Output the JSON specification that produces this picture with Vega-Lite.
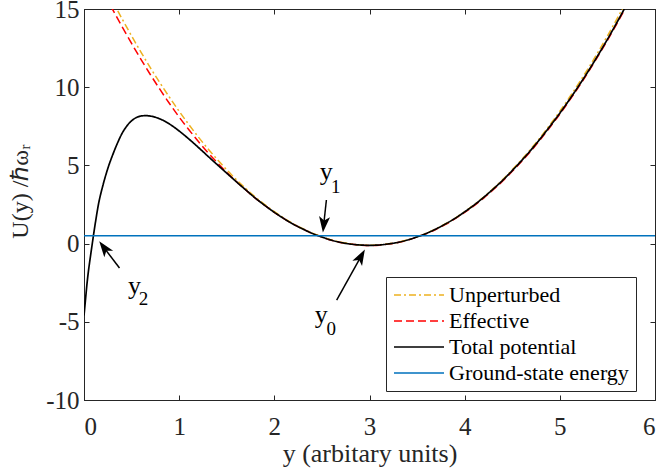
{
  "$schema": "https://vega.github.io/schema/vega-lite/v6.json",
  "width": 571,
  "height": 391,
  "autosize": {"type": "none"},
  "padding": {"left": 84, "top": 9, "right": 3, "bottom": 74},
  "background": "white",
  "config": {
    "view": {"stroke": "#262626", "strokeWidth": 1},
    "font": "Liberation Serif",
    "axis": {
      "grid": false,
      "domainColor": "#262626",
      "tickColor": "#262626",
      "tickSize": -5,
      "labelFont": "Liberation Serif",
      "labelFontSize": 24,
      "labelColor": "#262626",
      "titleFont": "Liberation Serif",
      "titleFontWeight": "normal",
      "titleColor": "#262626"
    },
    "legend": {
      "labelFont": "Liberation Serif",
      "labelFontSize": 22,
      "labelColor": "black",
      "labelLimit": 400,
      "symbolType": "stroke",
      "symbolSize": 2500,
      "symbolStrokeWidth": 1.5,
      "clipHeight": 22,
      "fillColor": "white",
      "strokeColor": "#262626",
      "padding": 7,
      "rowPadding": 4,
      "labelOffset": 4,
      "cornerRadius": 0
    }
  },
  "datasets": {
    "curves": [
      {"pos": 0.0, "U": 19.16, "s": "Unperturbed"}, {"pos": 0.1, "U": 17.90, "s": "Unperturbed"}, {"pos": 0.2, "U": 16.68, "s": "Unperturbed"}, {"pos": 0.3, "U": 15.50, "s": "Unperturbed"}, {"pos": 0.4, "U": 14.37, "s": "Unperturbed"}, {"pos": 0.5, "U": 13.28, "s": "Unperturbed"}, {"pos": 0.6, "U": 12.23, "s": "Unperturbed"}, {"pos": 0.7, "U": 11.22, "s": "Unperturbed"}, {"pos": 0.8, "U": 10.26, "s": "Unperturbed"}, {"pos": 0.9, "U": 9.34, "s": "Unperturbed"},
      {"pos": 1.0, "U": 8.46, "s": "Unperturbed"}, {"pos": 1.1, "U": 7.63, "s": "Unperturbed"}, {"pos": 1.2, "U": 6.83, "s": "Unperturbed"}, {"pos": 1.3, "U": 6.08, "s": "Unperturbed"}, {"pos": 1.4, "U": 5.38, "s": "Unperturbed"}, {"pos": 1.5, "U": 4.72, "s": "Unperturbed"}, {"pos": 1.6, "U": 4.09, "s": "Unperturbed"}, {"pos": 1.7, "U": 3.52, "s": "Unperturbed"}, {"pos": 1.8, "U": 2.98, "s": "Unperturbed"}, {"pos": 1.9, "U": 2.49, "s": "Unperturbed"},
      {"pos": 2.0, "U": 2.04, "s": "Unperturbed"}, {"pos": 2.1, "U": 1.63, "s": "Unperturbed"}, {"pos": 2.2, "U": 1.27, "s": "Unperturbed"}, {"pos": 2.3, "U": 0.95, "s": "Unperturbed"}, {"pos": 2.4, "U": 0.67, "s": "Unperturbed"}, {"pos": 2.5, "U": 0.44, "s": "Unperturbed"}, {"pos": 2.6, "U": 0.24, "s": "Unperturbed"}, {"pos": 2.7, "U": 0.09, "s": "Unperturbed"}, {"pos": 2.8, "U": -0.01, "s": "Unperturbed"}, {"pos": 2.9, "U": -0.08, "s": "Unperturbed"},
      {"pos": 3.0, "U": -0.10, "s": "Unperturbed"}, {"pos": 3.1, "U": -0.08, "s": "Unperturbed"}, {"pos": 3.2, "U": -0.01, "s": "Unperturbed"}, {"pos": 3.3, "U": 0.09, "s": "Unperturbed"}, {"pos": 3.4, "U": 0.24, "s": "Unperturbed"}, {"pos": 3.5, "U": 0.44, "s": "Unperturbed"}, {"pos": 3.6, "U": 0.67, "s": "Unperturbed"}, {"pos": 3.7, "U": 0.95, "s": "Unperturbed"}, {"pos": 3.8, "U": 1.27, "s": "Unperturbed"}, {"pos": 3.9, "U": 1.63, "s": "Unperturbed"},
      {"pos": 4.0, "U": 2.04, "s": "Unperturbed"}, {"pos": 4.1, "U": 2.49, "s": "Unperturbed"}, {"pos": 4.2, "U": 2.98, "s": "Unperturbed"}, {"pos": 4.3, "U": 3.52, "s": "Unperturbed"}, {"pos": 4.4, "U": 4.09, "s": "Unperturbed"}, {"pos": 4.5, "U": 4.72, "s": "Unperturbed"}, {"pos": 4.6, "U": 5.38, "s": "Unperturbed"}, {"pos": 4.7, "U": 6.08, "s": "Unperturbed"}, {"pos": 4.8, "U": 6.83, "s": "Unperturbed"}, {"pos": 4.9, "U": 7.63, "s": "Unperturbed"},
      {"pos": 5.0, "U": 8.46, "s": "Unperturbed"}, {"pos": 5.1, "U": 9.34, "s": "Unperturbed"}, {"pos": 5.2, "U": 10.26, "s": "Unperturbed"}, {"pos": 5.3, "U": 11.22, "s": "Unperturbed"}, {"pos": 5.4, "U": 12.23, "s": "Unperturbed"}, {"pos": 5.5, "U": 13.28, "s": "Unperturbed"}, {"pos": 5.6, "U": 14.37, "s": "Unperturbed"}, {"pos": 5.7, "U": 15.50, "s": "Unperturbed"}, {"pos": 5.8, "U": 16.68, "s": "Unperturbed"},

      {"pos": 0.0, "U": 18.64, "s": "Effective"}, {"pos": 0.1, "U": 17.38, "s": "Effective"}, {"pos": 0.2, "U": 16.16, "s": "Effective"}, {"pos": 0.3, "U": 14.98, "s": "Effective"}, {"pos": 0.4, "U": 13.87, "s": "Effective"}, {"pos": 0.5, "U": 12.80, "s": "Effective"}, {"pos": 0.6, "U": 11.77, "s": "Effective"}, {"pos": 0.7, "U": 10.78, "s": "Effective"}, {"pos": 0.8, "U": 9.84, "s": "Effective"}, {"pos": 0.9, "U": 8.94, "s": "Effective"},
      {"pos": 1.0, "U": 8.09, "s": "Effective"}, {"pos": 1.1, "U": 7.30, "s": "Effective"}, {"pos": 1.2, "U": 6.54, "s": "Effective"}, {"pos": 1.3, "U": 5.83, "s": "Effective"}, {"pos": 1.4, "U": 5.18, "s": "Effective"}, {"pos": 1.5, "U": 4.56, "s": "Effective"}, {"pos": 1.6, "U": 3.97, "s": "Effective"}, {"pos": 1.7, "U": 3.43, "s": "Effective"}, {"pos": 1.8, "U": 2.91, "s": "Effective"}, {"pos": 1.9, "U": 2.44, "s": "Effective"},
      {"pos": 2.0, "U": 2.00, "s": "Effective"}, {"pos": 2.1, "U": 1.60, "s": "Effective"}, {"pos": 2.2, "U": 1.24, "s": "Effective"}, {"pos": 2.3, "U": 0.93, "s": "Effective"}, {"pos": 2.4, "U": 0.65, "s": "Effective"}, {"pos": 2.5, "U": 0.42, "s": "Effective"}, {"pos": 2.6, "U": 0.22, "s": "Effective"}, {"pos": 2.7, "U": 0.07, "s": "Effective"}, {"pos": 2.8, "U": -0.03, "s": "Effective"}, {"pos": 2.9, "U": -0.10, "s": "Effective"},
      {"pos": 3.0, "U": -0.12, "s": "Effective"}, {"pos": 3.1, "U": -0.10, "s": "Effective"}, {"pos": 3.2, "U": -0.03, "s": "Effective"}, {"pos": 3.3, "U": 0.07, "s": "Effective"}, {"pos": 3.4, "U": 0.22, "s": "Effective"}, {"pos": 3.5, "U": 0.42, "s": "Effective"}, {"pos": 3.6, "U": 0.64, "s": "Effective"}, {"pos": 3.7, "U": 0.92, "s": "Effective"}, {"pos": 3.8, "U": 1.23, "s": "Effective"}, {"pos": 3.9, "U": 1.59, "s": "Effective"},
      {"pos": 4.0, "U": 1.99, "s": "Effective"}, {"pos": 4.1, "U": 2.43, "s": "Effective"}, {"pos": 4.2, "U": 2.91, "s": "Effective"}, {"pos": 4.3, "U": 3.44, "s": "Effective"}, {"pos": 4.4, "U": 4.00, "s": "Effective"}, {"pos": 4.5, "U": 4.62, "s": "Effective"}, {"pos": 4.6, "U": 5.27, "s": "Effective"}, {"pos": 4.7, "U": 5.95, "s": "Effective"}, {"pos": 4.8, "U": 6.69, "s": "Effective"}, {"pos": 4.9, "U": 7.47, "s": "Effective"},
      {"pos": 5.0, "U": 8.28, "s": "Effective"}, {"pos": 5.1, "U": 9.14, "s": "Effective"}, {"pos": 5.2, "U": 10.04, "s": "Effective"}, {"pos": 5.3, "U": 10.98, "s": "Effective"}, {"pos": 5.4, "U": 11.97, "s": "Effective"}, {"pos": 5.5, "U": 13.00, "s": "Effective"}, {"pos": 5.6, "U": 14.07, "s": "Effective"}, {"pos": 5.7, "U": 15.18, "s": "Effective"}, {"pos": 5.8, "U": 16.33, "s": "Effective"},

      {"pos": 0.0, "U": -4.6, "s": "Total potential"}, {"pos": 0.01, "U": -3.95, "s": "Total potential"}, {"pos": 0.02, "U": -3.3, "s": "Total potential"}, {"pos": 0.03, "U": -2.65, "s": "Total potential"}, {"pos": 0.04, "U": -2.1, "s": "Total potential"}, {"pos": 0.05, "U": -1.6, "s": "Total potential"}, {"pos": 0.06, "U": -1.15, "s": "Total potential"}, {"pos": 0.08, "U": -0.3, "s": "Total potential"}, {"pos": 0.1, "U": 0.55, "s": "Total potential"}, {"pos": 0.12, "U": 1.35, "s": "Total potential"},
      {"pos": 0.15, "U": 2.45, "s": "Total potential"}, {"pos": 0.2, "U": 3.75, "s": "Total potential"}, {"pos": 0.25, "U": 4.8, "s": "Total potential"}, {"pos": 0.3, "U": 5.65, "s": "Total potential"}, {"pos": 0.35, "U": 6.4, "s": "Total potential"}, {"pos": 0.4, "U": 7.05, "s": "Total potential"}, {"pos": 0.45, "U": 7.52, "s": "Total potential"}, {"pos": 0.5, "U": 7.85, "s": "Total potential"}, {"pos": 0.55, "U": 8.06, "s": "Total potential"}, {"pos": 0.6, "U": 8.16, "s": "Total potential"},
      {"pos": 0.65, "U": 8.18, "s": "Total potential"}, {"pos": 0.7, "U": 8.15, "s": "Total potential"}, {"pos": 0.75, "U": 8.08, "s": "Total potential"}, {"pos": 0.8, "U": 7.97, "s": "Total potential"}, {"pos": 0.85, "U": 7.82, "s": "Total potential"}, {"pos": 0.9, "U": 7.64, "s": "Total potential"}, {"pos": 0.95, "U": 7.43, "s": "Total potential"}, {"pos": 1.0, "U": 7.20, "s": "Total potential"}, {"pos": 1.1, "U": 6.70, "s": "Total potential"}, {"pos": 1.2, "U": 6.16, "s": "Total potential"},
      {"pos": 1.3, "U": 5.60, "s": "Total potential"}, {"pos": 1.4, "U": 5.05, "s": "Total potential"}, {"pos": 1.5, "U": 4.50, "s": "Total potential"}, {"pos": 1.6, "U": 3.96, "s": "Total potential"}, {"pos": 1.7, "U": 3.43, "s": "Total potential"}, {"pos": 1.8, "U": 2.91, "s": "Total potential"}, {"pos": 1.9, "U": 2.44, "s": "Total potential"}, {"pos": 2.0, "U": 2.0, "s": "Total potential"}, {"pos": 2.1, "U": 1.60, "s": "Total potential"}, {"pos": 2.2, "U": 1.24, "s": "Total potential"},
      {"pos": 2.3, "U": 0.93, "s": "Total potential"}, {"pos": 2.4, "U": 0.65, "s": "Total potential"}, {"pos": 2.5, "U": 0.42, "s": "Total potential"}, {"pos": 2.6, "U": 0.22, "s": "Total potential"}, {"pos": 2.7, "U": 0.07, "s": "Total potential"}, {"pos": 2.8, "U": -0.03, "s": "Total potential"}, {"pos": 2.9, "U": -0.09, "s": "Total potential"}, {"pos": 3.0, "U": -0.11, "s": "Total potential"}, {"pos": 3.1, "U": -0.09, "s": "Total potential"}, {"pos": 3.2, "U": -0.02, "s": "Total potential"},
      {"pos": 3.3, "U": 0.08, "s": "Total potential"}, {"pos": 3.4, "U": 0.23, "s": "Total potential"}, {"pos": 3.5, "U": 0.43, "s": "Total potential"}, {"pos": 3.6, "U": 0.66, "s": "Total potential"}, {"pos": 3.7, "U": 0.94, "s": "Total potential"}, {"pos": 3.8, "U": 1.26, "s": "Total potential"}, {"pos": 3.9, "U": 1.62, "s": "Total potential"}, {"pos": 4.0, "U": 2.03, "s": "Total potential"}, {"pos": 4.1, "U": 2.47, "s": "Total potential"}, {"pos": 4.2, "U": 2.96, "s": "Total potential"},
      {"pos": 4.3, "U": 3.49, "s": "Total potential"}, {"pos": 4.4, "U": 4.05, "s": "Total potential"}, {"pos": 4.5, "U": 4.67, "s": "Total potential"}, {"pos": 4.6, "U": 5.32, "s": "Total potential"}, {"pos": 4.7, "U": 6.01, "s": "Total potential"}, {"pos": 4.8, "U": 6.75, "s": "Total potential"}, {"pos": 4.9, "U": 7.53, "s": "Total potential"}, {"pos": 5.0, "U": 8.34, "s": "Total potential"}, {"pos": 5.1, "U": 9.2, "s": "Total potential"}, {"pos": 5.2, "U": 10.1, "s": "Total potential"},
      {"pos": 5.3, "U": 11.04, "s": "Total potential"}, {"pos": 5.4, "U": 12.03, "s": "Total potential"}, {"pos": 5.5, "U": 13.06, "s": "Total potential"}, {"pos": 5.6, "U": 14.14, "s": "Total potential"}, {"pos": 5.7, "U": 15.26, "s": "Total potential"}, {"pos": 5.8, "U": 16.42, "s": "Total potential"},

      {"pos": 0.0, "U": 0.5, "s": "Ground-state energy"}, {"pos": 6.0, "U": 0.5, "s": "Ground-state energy"}
    ],
    "arrows": [
      {"name": "y1", "x": 2.547, "y": 2.79, "x2": 2.519, "y2": 1.22},
      {"name": "y0", "x": 2.655, "y": -3.61, "x2": 2.911, "y2": -0.82},
      {"name": "y2", "x": 0.373, "y": -1.56, "x2": 0.210, "y2": -0.26}
    ],
    "labels": [
      {"t": "y", "k": "main", "x": 2.545, "y": 4.09},
      {"t": "1", "k": "sub", "x": 2.645, "y": 3.22},
      {"t": "y", "k": "main", "x": 2.492, "y": -5.10},
      {"t": "0", "k": "sub", "x": 2.597, "y": -5.85},
      {"t": "y", "k": "main", "x": 0.531, "y": -3.2},
      {"t": "2", "k": "sub", "x": 0.626, "y": -3.93}
    ]
  },
  "layer": [
    {
      "data": {"name": "curves"},
      "encoding": {
        "x": {"field": "pos", "type": "quantitative", "scale": {"domain": [0, 6], "nice": false, "zero": false},
              "axis": {"orient": "bottom", "values": [0, 1, 2, 3, 4, 5, 6], "labelFont": "Liberation Serif", "labelFontSize": 25, "labelPadding": 19, "title": "y (arbitary units)", "titleFont": "Liberation Serif", "titleFontSize": 26, "titleX": 285.5, "titleY": 40}},
        "y": {"field": "U", "type": "quantitative", "scale": {"domain": [-10, 15], "nice": false, "zero": false},
              "axis": {"orient": "left", "values": [-10, -5, 0, 5, 10, 15], "labelFont": "Liberation Serif", "labelFontSize": 25, "labelPadding": 10, "labelExpr": "replace(datum.label, '\u2212', '-')", "title": "U(y) /ℏωᵣ", "titleFont": "Liberation Serif", "titleFontSize": 24, "titleX": -52, "titleY": 182}},
        "color": {"field": "s", "type": "nominal",
                  "scale": {"domain": ["Unperturbed", "Effective", "Total potential", "Ground-state energy"], "range": ["#EDB120", "#FF0000", "#000000", "#0072BD"]},
                  "legend": {"title": null, "orient": "none", "legendX": 302, "legendY": 268}},
        "strokeDash": {"field": "s", "type": "nominal",
                  "scale": {"domain": ["Unperturbed", "Effective", "Total potential", "Ground-state energy"], "range": [[7, 3, 2, 3], [8, 4], [1, 0], [1, 0]]},
                  "legend": {"title": null, "orient": "none", "legendX": 302, "legendY": 268}}
      },
      "layer": [
        {"transform": [{"filter": "datum.s === 'Effective'"}], "mark": {"type": "line", "strokeWidth": 1.5, "clip": true, "interpolate": "monotone"}},
        {"transform": [{"filter": "datum.s === 'Unperturbed'"}], "mark": {"type": "line", "strokeWidth": 1.5, "clip": true, "interpolate": "monotone"}},
        {"transform": [{"filter": "datum.s === 'Total potential'"}], "mark": {"type": "line", "strokeWidth": 1.7, "clip": true, "interpolate": "monotone"}},
        {"transform": [{"filter": "datum.s === 'Ground-state energy'"}], "mark": {"type": "line", "strokeWidth": 1.5, "clip": true}}
      ]
    },
    {
      "data": {"name": "curves"},
      "transform": [{"filter": "datum.s === 'Ground-state energy'"}],
      "mark": {"type": "point", "opacity": 0},
      "encoding": {
        "x": {"field": "pos", "type": "quantitative", "scale": {"domain": [0, 6], "nice": false, "zero": false},
              "axis": {"orient": "top", "values": [0, 1, 2, 3, 4, 5, 6], "labels": false, "title": null}},
        "y": {"field": "U", "type": "quantitative", "scale": {"domain": [-10, 15], "nice": false, "zero": false},
              "axis": {"orient": "right", "values": [-10, -5, 0, 5, 10, 15], "labels": false, "title": null}}
      }
    },
    {
      "data": {"name": "arrows"},
      "mark": {"type": "rule", "color": "black", "strokeWidth": 1.5},
      "encoding": {
        "x": {"field": "x", "type": "quantitative", "axis": null},
        "y": {"field": "y", "type": "quantitative", "axis": null},
        "x2": {"field": "x2"},
        "y2": {"field": "y2"}
      }
    },
    {
      "data": {"name": "arrows"},
      "transform": [{"filter": "datum.name === 'y1'"}],
      "mark": {"type": "point", "shape": "M0,-1L0.7,1L0,0.5L-0.7,1Z", "filled": true, "color": "black", "opacity": 1, "size": 250, "angle": 186, "strokeWidth": 0},
      "encoding": {
        "x": {"field": "x2", "type": "quantitative", "axis": null},
        "y": {"field": "y2", "type": "quantitative", "axis": null}
      }
    },
    {
      "data": {"name": "arrows"},
      "transform": [{"filter": "datum.name === 'y0'"}],
      "mark": {"type": "point", "shape": "M0,-1L0.7,1L0,0.5L-0.7,1Z", "filled": true, "color": "black", "opacity": 1, "size": 250, "angle": 29, "strokeWidth": 0},
      "encoding": {
        "x": {"field": "x2", "type": "quantitative", "axis": null},
        "y": {"field": "y2", "type": "quantitative", "axis": null}
      }
    },
    {
      "data": {"name": "arrows"},
      "transform": [{"filter": "datum.name === 'y2'"}],
      "mark": {"type": "point", "shape": "M0,-1L0.7,1L0,0.5L-0.7,1Z", "filled": true, "color": "black", "opacity": 1, "size": 250, "angle": 323, "strokeWidth": 0},
      "encoding": {
        "x": {"field": "x2", "type": "quantitative", "axis": null},
        "y": {"field": "y2", "type": "quantitative", "axis": null}
      }
    },
    {
      "data": {"name": "labels"},
      "transform": [{"filter": "datum.k === 'main'"}],
      "mark": {"type": "text", "font": "Liberation Serif", "fontSize": 26, "align": "center", "baseline": "alphabetic", "color": "black"},
      "encoding": {
        "x": {"field": "x", "type": "quantitative", "axis": null},
        "y": {"field": "y", "type": "quantitative", "axis": null},
        "text": {"field": "t"}
      }
    },
    {
      "data": {"name": "labels"},
      "transform": [{"filter": "datum.k === 'sub'"}],
      "mark": {"type": "text", "font": "Liberation Serif", "fontSize": 19, "align": "center", "baseline": "alphabetic", "color": "black"},
      "encoding": {
        "x": {"field": "x", "type": "quantitative", "axis": null},
        "y": {"field": "y", "type": "quantitative", "axis": null},
        "text": {"field": "t"}
      }
    }
  ],
  "resolve": {"axis": {"x": "independent", "y": "independent"}}
}
